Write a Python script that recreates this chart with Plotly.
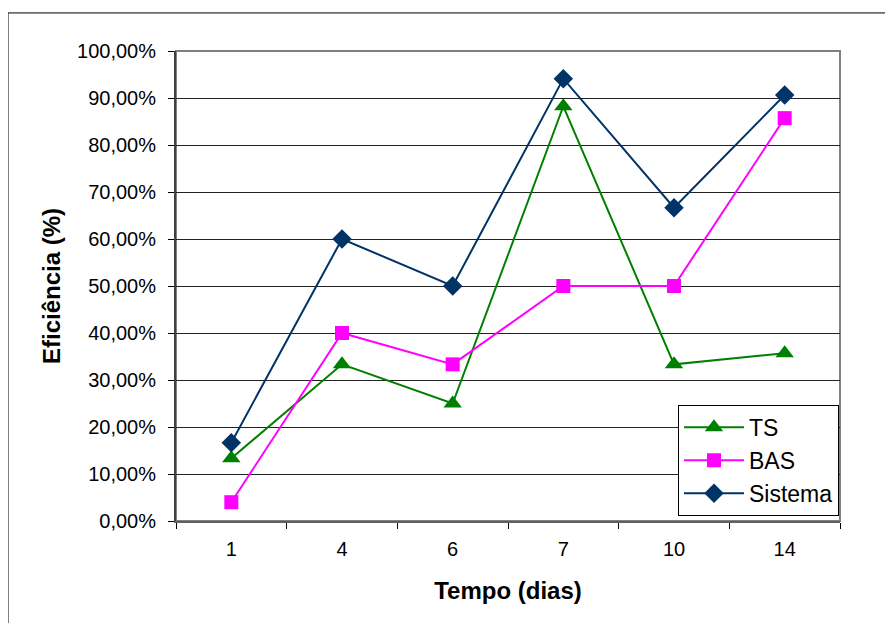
import plotly.graph_objects as go

categorias = ["1", "4", "6", "7", "10", "14"]
ts = [13.33, 33.33, 25.0, 88.24, 33.33, 35.71]
bas = [4.0, 40.0, 33.33, 50.0, 50.0, 85.71]
sistema = [16.67, 60.0, 50.0, 94.12, 66.67, 90.63]
y_ticks = [0, 10, 20, 30, 40, 50, 60, 70, 80, 90, 100]
y_ticktext = [f"{v:.2f}".replace(".", ",") + "%" for v in y_ticks]

fig = go.Figure()
fig.add_trace(go.Scatter(x=categorias, y=ts, name="TS", mode="lines+markers",
                         line=dict(color="#008000", width=2),
                         marker=dict(symbol="triangle-up", size=16, color="#008000")))
fig.add_trace(go.Scatter(x=categorias, y=bas, name="BAS", mode="lines+markers",
                         line=dict(color="#FF00FF", width=2),
                         marker=dict(symbol="square", size=14, color="#FF00FF")))
fig.add_trace(go.Scatter(x=categorias, y=sistema, name="Sistema", mode="lines+markers",
                         line=dict(color="#003366", width=2),
                         marker=dict(symbol="diamond", size=15, color="#003366")))

font = "Liberation Sans, Arial, sans-serif"
fig.update_layout(
    width=885, height=615,
    margin=dict(l=168, r=53, t=43, b=102),
    paper_bgcolor="white", plot_bgcolor="white",
    font=dict(family=font, size=20, color="black"),
    showlegend=True,
    legend=dict(x=0.756, y=0.247, xanchor="left", yanchor="top",
                bordercolor="black", borderwidth=1, bgcolor="white",
                font=dict(size=23), itemwidth=60, tracegroupgap=0),
    xaxis=dict(type="category", range=[-0.5, 5.5], showgrid=False,
               showline=True, linecolor="#606060", linewidth=2,
               ticks="outside", tickson="boundaries", ticklen=6, tickcolor="black",
               ticklabelstandoff=9,
               title=dict(text="<b>Tempo (dias)</b>", font=dict(size=24), standoff=23)),
    yaxis=dict(range=[0, 100], tickvals=y_ticks, ticktext=y_ticktext,
               showgrid=True, gridcolor="#222222", gridwidth=1,
               showline=True, linecolor="#404040", linewidth=2,
               ticks="outside", ticklen=6, tickcolor="black", zeroline=False,
               ticklabelstandoff=8,
               title=dict(text="<b>Eficiência (%)</b>", font=dict(size=24), standoff=10)),
)

# plot area border (top/right gray)
fig.add_shape(type="rect", xref="paper", yref="paper", x0=0, x1=1, y0=0, y1=1,
              line=dict(color="#808080", width=2), layer="below")
# outer chart border
fig.add_shape(type="rect", xref="paper", yref="paper", x0=-0.253, x1=1.3, y0=-0.4, y1=1.081,
              line=dict(color="black", width=1), layer="below")

fig.write_html("out.html")
